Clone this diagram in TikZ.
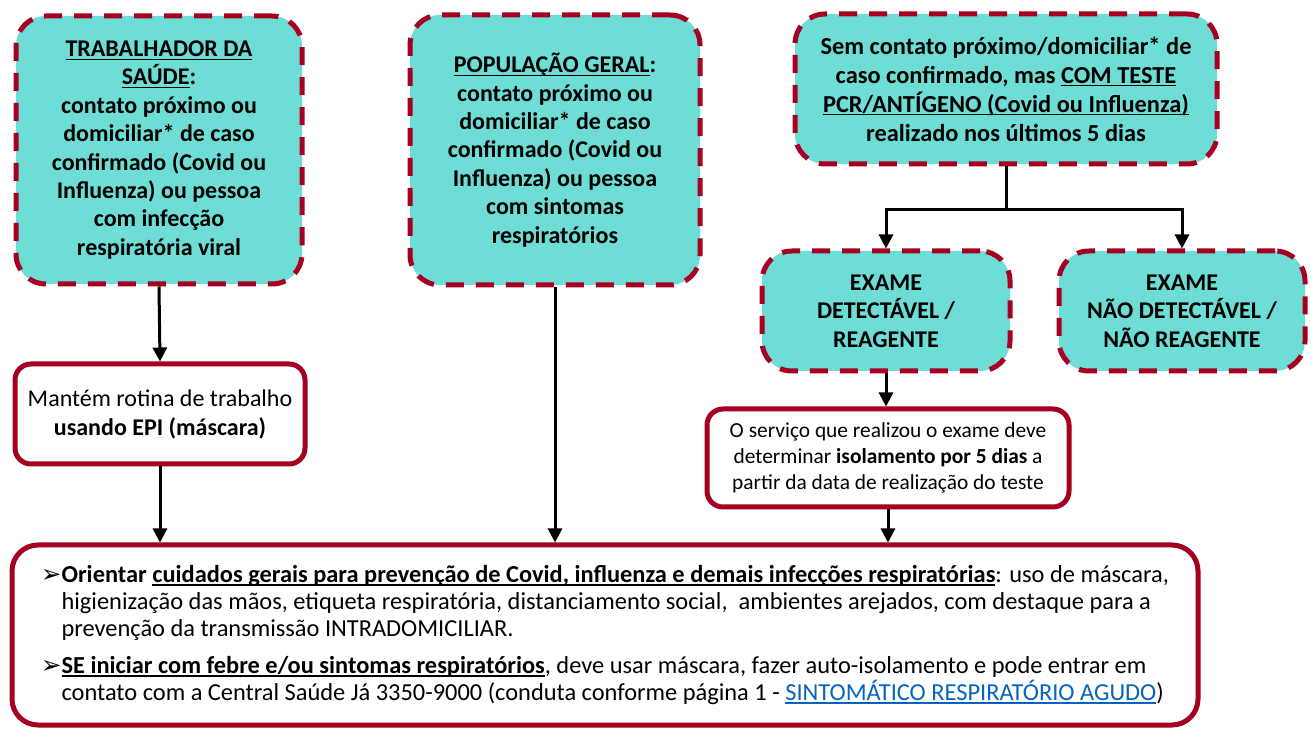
\documentclass[tikz,border=0pt]{standalone}
\usepackage{fontspec}
\setmainfont{Carlito}
\newfontfamily\symfont{DejaVu Sans}
\usepackage{tikz}
\usetikzlibrary{arrows.meta,positioning}
\definecolor{boxteal}{RGB}{110,221,214}
\definecolor{boxred}{RGB}{165,0,33}
\definecolor{linkblue}{RGB}{5,99,193}
\newcommand{\bul}{{\symfont ➢}}
\newsavebox{\ulbox}
\newcommand{\uln}[1]{\sbox{\ulbox}{#1}\rlap{\rule[-1.6pt]{\wd\ulbox}{0.6pt}}\usebox{\ulbox}}

\begin{document}
\begin{tikzpicture}[x=0.5pt,y=-0.5pt,->,>={Triangle[width=7pt,length=7pt]},line width=1.5pt]
  \tikzstyle{tealbox}=[draw=boxred,line width=2.5pt,dash pattern=on 9pt off 6pt,fill=boxteal,
    rounded corners=15pt,align=center,inner sep=2pt,font=\bfseries\fontsize{12}{14.2}\selectfont]
  \tikzstyle{whitebox}=[draw=boxred,line width=2.5pt,fill=white,rounded corners=8pt,align=center,inner sep=2pt]

  \useasboundingbox (0,0) rectangle (1311,731);

  % top row
  \node[tealbox,minimum width=143pt,minimum height=134pt] (saude) at (159,150)
    {\uln{TRABALHADOR DA}\\\uln{SAÚDE}:\\contato próximo ou\\domiciliar* de caso\\confirmado (Covid ou\\Influenza) ou pessoa\\com infecção\\respiratória viral};
  \node[tealbox,minimum width=145pt,minimum height=135pt] (geral) at (555,150)
    {\uln{POPULAÇÃO GERAL}:\\contato próximo ou\\domiciliar* de caso\\confirmado (Covid ou\\Influenza) ou pessoa\\com sintomas\\respiratórios};
  \node[tealbox,minimum width=211pt,minimum height=75pt,font=\bfseries\fontsize{12.2}{14.5}\selectfont] (teste) at (1006,89)
    {Sem contato próximo/domiciliar* de\\caso confirmado, mas \uln{COM TESTE}\\\uln{PCR/ANTÍGENO (Covid ou Influenza)}\\realizado nos últimos 5 dias};

  % resultado do exame
  \node[tealbox,minimum width=124pt,minimum height=60pt] (detect) at (886,311)
    {EXAME\\DETECTÁVEL /\\REAGENTE};
  \node[tealbox,minimum width=123pt,minimum height=60pt] (naodetect) at (1182,311)
    {EXAME\\NÃO DETECTÁVEL /\\NÃO REAGENTE};

  % condutas
  \node[whitebox,minimum width=145pt,minimum height=50pt,font=\fontsize{12}{14.5}\selectfont] (rotina) at (160,414)
    {Mantém rotina de trabalho\\\textbf{usando EPI (máscara)}};
  \node[whitebox,minimum width=181pt,minimum height=49pt,font=\fontsize{10.7}{13}\selectfont] (isola) at (888,458)
    {O serviço que realizou o exame deve\\determinar \textbf{isolamento por 5 dias} a\\partir da data de realização do teste};

  \node[whitebox,rounded corners=13pt,minimum width=593pt,minimum height=90pt,align=left,
    font=\fontsize{12.2}{13.5}\selectfont] (cuidados) at (605,635)
    {\bul\textbf{Orientar \uln{cuidados gerais para prevenção de Covid, influenza e demais infecções respiratórias}}: uso de máscara,\\
     \hphantom{\bul}higienização das mãos, etiqueta respiratória, distanciamento social,\ \ ambientes arejados, com destaque para a\\
     \hphantom{\bul}prevenção da transmissão INTRADOMICILIAR.\\[5pt]
     \bul\textbf{\uln{SE iniciar com febre e/ou sintomas respiratórios}}, deve usar máscara, fazer auto-isolamento e pode entrar em\\
     \hphantom{\bul}contato com a Central Saúde Já 3350-9000 (conduta conforme página 1 - \textcolor{linkblue}{\uln{SINTOMÁTICO RESPIRATÓRIO AGUDO}})};

  % setas
  \draw (saude.south) -- (rotina.north);
  \draw (rotina.south) -- (rotina.south |- cuidados.north);
  \draw (geral.south) -- (geral.south |- cuidados.north);
  \draw[-] (teste.south) -- ++(0,43) coordinate (split);
  \draw (split) -| (detect.north);
  \draw (split) -| (naodetect.north);
  \draw (detect.south) -- (detect.south |- isola.north);
  \draw (isola.south) -- (isola.south |- cuidados.north);
\end{tikzpicture}
\end{document}
